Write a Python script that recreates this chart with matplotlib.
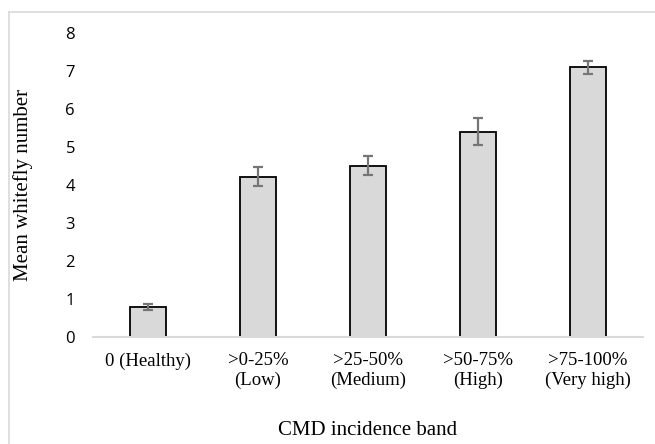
import matplotlib
matplotlib.use("Agg")
import matplotlib.pyplot as plt
from matplotlib.lines import Line2D
import numpy as np

# data
categories = ["0 (Healthy)", ">0-25%\n(Low)", ">25-50%\n(Medium)", ">50-75%\n(High)", ">75-100%\n(Very high)"]
mean_whitefly = [0.79, 4.22, 4.51, 5.40, 7.10]
std_error = [0.08, 0.25, 0.24, 0.36, 0.17]
y_ticks = [0, 1, 2, 3, 4, 5, 6, 7, 8]

fig = plt.figure(figsize=(6.55, 4.44), dpi=100)
ax = fig.add_axes([93 / 655, 1 - 337 / 444, 550 / 655, 304 / 444])

x = np.arange(len(categories))
ax.bar(x, mean_whitefly, width=0.32, color="#d9d9d9", edgecolor="black",
       linewidth=1.3, zorder=2)
ax.errorbar(x, mean_whitefly, yerr=std_error, fmt="none", ecolor="#767676",
            elinewidth=1.6, capsize=3.4, capthick=1.6, zorder=3)

ax.set_xlim(-0.5, len(categories) - 0.5)
ax.set_ylim(0, 8)
ax.set_yticks(y_ticks)
ax.set_xticks(x)
ax.set_xticklabels(categories, fontfamily="Liberation Serif", fontsize=13.5,
                   linespacing=1.2)
for lab in ax.get_yticklabels():
    lab.set_fontfamily("Open Sans")
    lab.set_fontsize(12)
ax.tick_params(axis="both", length=0)
ax.tick_params(axis="y", pad=13)
ax.tick_params(axis="x", pad=11)

for side in ["top", "right", "left"]:
    ax.spines[side].set_visible(False)
ax.spines["bottom"].set_color("#d9d9d9")
ax.spines["bottom"].set_linewidth(1.5)

ax.set_ylabel("Mean whitefly number", fontfamily="Liberation Serif", fontsize=15)
ax.yaxis.set_label_coords(-(93 - 33) / 550, 0.5)
ax.set_xlabel("CMD incidence band", fontfamily="Liberation Serif", fontsize=15)
ax.xaxis.set_label_coords(0.5, -(421 - 337) / 304)

# light chart-area border (cut off on the right and bottom)
fig.add_artist(Line2D([9 / 655, 9 / 655], [0, 1 - 12 / 444], color="#d9d9d9",
                      linewidth=1.2, transform=fig.transFigure))
fig.add_artist(Line2D([9 / 655, 1], [1 - 12 / 444, 1 - 12 / 444], color="#d9d9d9",
                      linewidth=1.2, transform=fig.transFigure))

fig.savefig("out.png", dpi=100)
